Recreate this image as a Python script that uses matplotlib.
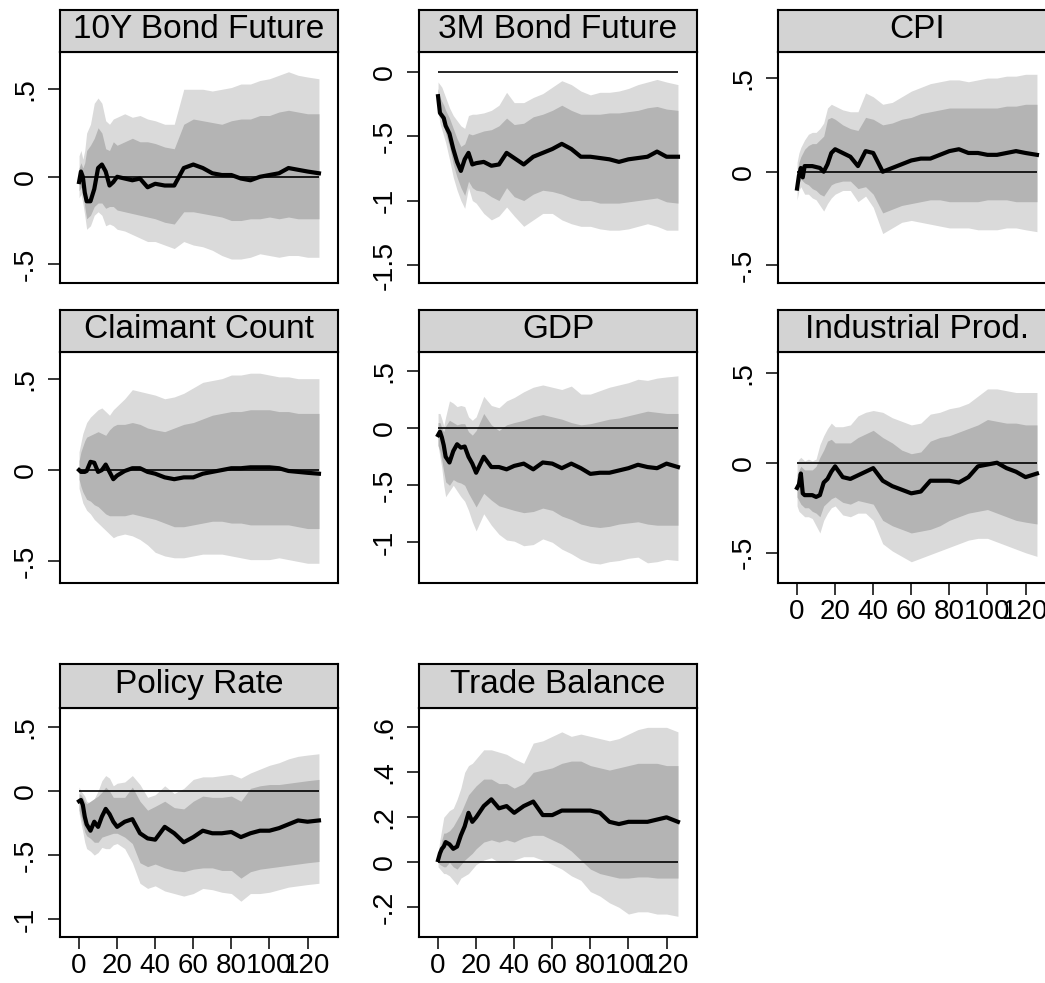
import matplotlib
matplotlib.use("Agg")
import matplotlib.pyplot as plt

plt.rcParams['font.family'] = ['Liberation Sans', 'DejaVu Sans']

# horizons at which the responses are recorded
horizon = [0, 1, 2, 3, 4, 6, 8, 10, 12, 14, 16, 18, 20, 24, 28, 32, 36, 40, 45, 50,
           55, 60, 65, 70, 75, 80, 85, 90, 95, 100, 105, 110, 115, 120, 126]

titles = ["10Y Bond Future", "3M Bond Future", "CPI", "Claimant Count", "GDP",
          "Industrial Prod.", "Policy Rate", "Trade Balance"]

# 10Y bond future
b10_irf = [-0.03, 0.03, 0.0, -0.09, -0.14, -0.14, -0.07, 0.05, 0.07, 0.03, -0.05, -0.03, 0.0, -0.01, -0.02, -0.01, -0.06, -0.04,
           -0.05, -0.05, 0.05, 0.07, 0.05, 0.02, 0.01, 0.01, -0.01, -0.02, 0.0, 0.01, 0.02, 0.05, 0.04, 0.03, 0.02]
b10_hi90 = [0.12, 0.15, 0.1, 0.15, 0.25, 0.3, 0.42, 0.45, 0.42, 0.32, 0.3, 0.33, 0.34, 0.36, 0.34, 0.35, 0.33, 0.32,
            0.3, 0.3, 0.5, 0.5, 0.5, 0.49, 0.5, 0.51, 0.53, 0.53, 0.55, 0.56, 0.58, 0.6, 0.58, 0.57, 0.56]
b10_lo90 = [-0.12, -0.1, -0.15, -0.22, -0.3, -0.28, -0.22, -0.2, -0.22, -0.28, -0.27, -0.28, -0.3, -0.31, -0.33, -0.35, -0.37, -0.37,
            -0.39, -0.41, -0.37, -0.39, -0.4, -0.42, -0.45, -0.47, -0.47, -0.46, -0.44, -0.45, -0.46, -0.45, -0.45, -0.46, -0.46]
b10_hi68 = [0.05, 0.08, 0.05, 0.08, 0.15, 0.18, 0.22, 0.28, 0.25, 0.16, 0.15, 0.2, 0.18, 0.2, 0.22, 0.2, 0.2, 0.19,
            0.17, 0.16, 0.3, 0.33, 0.32, 0.31, 0.3, 0.32, 0.33, 0.33, 0.35, 0.35, 0.37, 0.38, 0.37, 0.36, 0.36]
b10_lo68 = [-0.08, -0.06, -0.08, -0.17, -0.24, -0.22, -0.17, -0.15, -0.15, -0.18, -0.17, -0.17, -0.19, -0.2, -0.21, -0.22, -0.23, -0.24,
            -0.26, -0.27, -0.2, -0.2, -0.21, -0.22, -0.23, -0.25, -0.25, -0.24, -0.24, -0.23, -0.24, -0.23, -0.24, -0.24, -0.24]

# 3M bond future
b3m_irf = [-0.19, -0.32, -0.34, -0.36, -0.42, -0.48, -0.6, -0.7, -0.77, -0.68, -0.63, -0.72, -0.71, -0.7, -0.73, -0.72, -0.63, -0.67,
           -0.72, -0.66, -0.63, -0.6, -0.56, -0.6, -0.66, -0.66, -0.67, -0.68, -0.7, -0.68, -0.67, -0.66, -0.62, -0.66, -0.66]
b3m_hi90 = [-0.08, -0.1, -0.12, -0.16, -0.2, -0.28, -0.34, -0.38, -0.42, -0.44, -0.34, -0.33, -0.33, -0.32, -0.3, -0.26, -0.16, -0.24,
            -0.24, -0.2, -0.17, -0.12, -0.07, -0.1, -0.15, -0.18, -0.16, -0.16, -0.15, -0.13, -0.1, -0.08, -0.06, -0.08, -0.1]
b3m_lo90 = [-0.3, -0.4, -0.45, -0.5, -0.55, -0.68, -0.82, -0.92, -1.0, -1.06, -0.9, -1.0, -1.02, -1.1, -1.15, -1.12, -1.05, -1.12,
            -1.2, -1.15, -1.1, -1.1, -1.15, -1.18, -1.2, -1.2, -1.22, -1.23, -1.23, -1.22, -1.2, -1.18, -1.2, -1.23, -1.23]
b3m_hi68 = [-0.13, -0.2, -0.23, -0.26, -0.3, -0.36, -0.44, -0.52, -0.58, -0.56, -0.48, -0.49, -0.48, -0.46, -0.45, -0.42, -0.36, -0.41,
            -0.4, -0.35, -0.33, -0.3, -0.26, -0.3, -0.33, -0.33, -0.33, -0.32, -0.32, -0.31, -0.3, -0.28, -0.27, -0.29, -0.3]
b3m_lo68 = [-0.23, -0.33, -0.38, -0.42, -0.48, -0.58, -0.72, -0.82, -0.9, -0.96, -0.85, -0.9, -0.92, -0.93, -0.97, -1.0, -0.9, -0.97,
            -1.0, -0.95, -0.92, -0.93, -0.95, -0.98, -1.0, -1.0, -1.02, -1.02, -1.02, -1.01, -1.0, -0.99, -0.98, -1.01, -1.02]

# CPI
cpi_irf = [-0.09, -0.02, 0.02, -0.03, 0.03, 0.03, 0.03, 0.025, 0.02, 0.0, 0.04, 0.1, 0.12, 0.1, 0.08, 0.03, 0.11, 0.1,
           0.0, 0.02, 0.04, 0.06, 0.07, 0.07, 0.09, 0.11, 0.12, 0.1, 0.1, 0.09, 0.09, 0.1, 0.11, 0.1, 0.09]
cpi_hi90 = [0.05, 0.1, 0.13, 0.15, 0.17, 0.2, 0.21, 0.21, 0.23, 0.26, 0.34, 0.36, 0.35, 0.33, 0.32, 0.32, 0.42, 0.4,
            0.36, 0.37, 0.4, 0.43, 0.45, 0.47, 0.48, 0.49, 0.49, 0.48, 0.49, 0.5, 0.5, 0.51, 0.51, 0.52, 0.52]
cpi_lo90 = [-0.15, -0.1, -0.08, -0.1, -0.12, -0.12, -0.14, -0.15, -0.18, -0.21, -0.17, -0.14, -0.12, -0.1, -0.1, -0.16, -0.13, -0.19,
            -0.33, -0.3, -0.27, -0.26, -0.27, -0.28, -0.29, -0.3, -0.3, -0.3, -0.31, -0.31, -0.31, -0.3, -0.3, -0.31, -0.32]
cpi_hi68 = [0.0, 0.05, 0.08, 0.1, 0.12, 0.14, 0.15, 0.15, 0.17, 0.19, 0.28, 0.29, 0.28, 0.25, 0.23, 0.22, 0.29, 0.28,
            0.25, 0.26, 0.28, 0.29, 0.31, 0.32, 0.33, 0.34, 0.34, 0.34, 0.34, 0.34, 0.34, 0.35, 0.35, 0.36, 0.36]
cpi_lo68 = [-0.1, -0.06, -0.04, -0.05, -0.06, -0.07, -0.09, -0.1, -0.12, -0.13, -0.1, -0.07, -0.06, -0.05, -0.05, -0.09, -0.08, -0.12,
            -0.22, -0.2, -0.18, -0.17, -0.16, -0.15, -0.15, -0.16, -0.16, -0.16, -0.16, -0.15, -0.15, -0.15, -0.16, -0.16, -0.16]

# Claimant count
cc_irf = [0.0, -0.01, -0.01, -0.01, -0.005, 0.045, 0.04, -0.01, 0.0, 0.03, -0.01, -0.05, -0.03, -0.005, 0.01, 0.01, -0.01, -0.02,
          -0.04, -0.05, -0.04, -0.04, -0.02, -0.01, 0.0, 0.01, 0.01, 0.015, 0.015, 0.015, 0.01, -0.005, -0.01, -0.015, -0.02]
cc_hi90 = [0.1, 0.15, 0.2, 0.23, 0.26, 0.29, 0.31, 0.33, 0.34, 0.32, 0.3, 0.33, 0.35, 0.39, 0.44, 0.43, 0.42, 0.41,
           0.39, 0.4, 0.42, 0.45, 0.48, 0.49, 0.5, 0.52, 0.52, 0.53, 0.53, 0.52, 0.51, 0.51, 0.5, 0.5, 0.5]
cc_lo90 = [-0.1, -0.14, -0.18, -0.2, -0.22, -0.24, -0.27, -0.29, -0.31, -0.33, -0.35, -0.37, -0.36, -0.35, -0.36, -0.38, -0.41, -0.45,
           -0.47, -0.48, -0.48, -0.47, -0.46, -0.46, -0.46, -0.47, -0.48, -0.49, -0.49, -0.49, -0.48, -0.49, -0.5, -0.51, -0.51]
cc_hi68 = [0.05, 0.1, 0.13, 0.16, 0.18, 0.19, 0.2, 0.21, 0.2, 0.19, 0.22, 0.24, 0.25, 0.25, 0.26, 0.25, 0.23, 0.22,
           0.21, 0.23, 0.25, 0.26, 0.28, 0.3, 0.31, 0.32, 0.32, 0.33, 0.33, 0.33, 0.32, 0.32, 0.31, 0.31, 0.31]
cc_lo68 = [-0.05, -0.09, -0.12, -0.14, -0.16, -0.17, -0.19, -0.2, -0.22, -0.24, -0.25, -0.25, -0.25, -0.25, -0.24, -0.25, -0.26, -0.27,
           -0.29, -0.31, -0.31, -0.3, -0.29, -0.28, -0.28, -0.29, -0.29, -0.3, -0.3, -0.3, -0.3, -0.3, -0.31, -0.32, -0.32]

# GDP
gdp_irf = [-0.06, -0.03, -0.08, -0.15, -0.25, -0.3, -0.2, -0.14, -0.17, -0.16, -0.25, -0.31, -0.39, -0.25, -0.34, -0.34, -0.36, -0.33,
           -0.31, -0.36, -0.3, -0.31, -0.35, -0.31, -0.35, -0.4, -0.39, -0.39, -0.37, -0.35, -0.32, -0.34, -0.35, -0.31, -0.34]
gdp_hi90 = [0.13, 0.13, 0.08, 0.02, 0.1, 0.24, 0.22, 0.19, 0.2, 0.19, 0.1, 0.07, 0.1, 0.28, 0.2, 0.18, 0.24, 0.27,
            0.32, 0.36, 0.38, 0.36, 0.34, 0.37, 0.3, 0.3, 0.33, 0.36, 0.38, 0.4, 0.43, 0.42, 0.44, 0.45, 0.46]
gdp_lo90 = [-0.15, -0.25, -0.35, -0.5, -0.6, -0.55, -0.5, -0.55, -0.6, -0.64, -0.72, -0.82, -0.9, -0.75, -0.85, -0.93, -0.98, -0.99,
            -1.03, -1.02, -0.97, -1.0, -1.06, -1.1, -1.15, -1.18, -1.19, -1.17, -1.16, -1.14, -1.13, -1.18, -1.17, -1.15, -1.16]
gdp_hi68 = [0.05, 0.05, 0.0, -0.03, 0.02, 0.07, 0.05, 0.03, 0.04, 0.04, -0.03, -0.06, -0.02, 0.13, 0.03, -0.02, 0.03, 0.05,
            0.07, 0.1, 0.12, 0.1, 0.08, 0.05, 0.03, 0.04, 0.06, 0.08, 0.09, 0.11, 0.13, 0.15, 0.14, 0.13, 0.13]
gdp_lo68 = [-0.15, -0.2, -0.28, -0.38, -0.47, -0.5, -0.45, -0.47, -0.48, -0.5, -0.57, -0.63, -0.69, -0.57, -0.63, -0.68, -0.7, -0.72,
            -0.74, -0.73, -0.7, -0.72, -0.77, -0.8, -0.84, -0.86, -0.87, -0.86, -0.84, -0.83, -0.82, -0.84, -0.85, -0.85, -0.85]

# Industrial production
ip_irf = [-0.14, -0.12, -0.06, -0.17, -0.18, -0.18, -0.18, -0.19, -0.18, -0.11, -0.09, -0.05, -0.02, -0.08, -0.09, -0.07, -0.05, -0.03,
          -0.1, -0.13, -0.15, -0.17, -0.16, -0.1, -0.1, -0.1, -0.11, -0.08, -0.02, -0.01, 0.0, -0.03, -0.05, -0.08, -0.06]
ip_hi90 = [0.0, 0.02, 0.03, 0.02, 0.01, 0.02, 0.01, 0.02, 0.1, 0.15, 0.19, 0.22, 0.2, 0.2, 0.21, 0.26, 0.28, 0.29,
           0.28, 0.25, 0.23, 0.21, 0.22, 0.27, 0.28, 0.3, 0.31, 0.33, 0.37, 0.41, 0.41, 0.4, 0.39, 0.39, 0.39]
ip_lo90 = [-0.24, -0.27, -0.28, -0.29, -0.3, -0.3, -0.31, -0.35, -0.39, -0.32, -0.28, -0.25, -0.24, -0.29, -0.3, -0.28, -0.28, -0.32,
           -0.45, -0.49, -0.52, -0.55, -0.53, -0.51, -0.49, -0.47, -0.45, -0.43, -0.42, -0.42, -0.44, -0.46, -0.48, -0.5, -0.52]
ip_hi68 = [-0.07, -0.04, -0.02, -0.03, -0.04, -0.04, -0.04, -0.02, 0.03, 0.07, 0.12, 0.13, 0.11, 0.11, 0.11, 0.14, 0.16, 0.18,
           0.14, 0.11, 0.07, 0.05, 0.06, 0.12, 0.14, 0.15, 0.17, 0.19, 0.21, 0.24, 0.23, 0.22, 0.22, 0.21, 0.21]
ip_lo68 = [-0.19, -0.21, -0.23, -0.24, -0.25, -0.25, -0.27, -0.28, -0.3, -0.24, -0.22, -0.2, -0.19, -0.22, -0.23, -0.21, -0.22, -0.23,
           -0.32, -0.35, -0.37, -0.39, -0.38, -0.37, -0.35, -0.32, -0.3, -0.28, -0.27, -0.26, -0.28, -0.3, -0.32, -0.33, -0.34]

# Policy rate
pr_irf = [-0.08, -0.07, -0.11, -0.2, -0.26, -0.31, -0.24, -0.28, -0.2, -0.14, -0.18, -0.24, -0.28, -0.24, -0.22, -0.33, -0.37, -0.38,
          -0.28, -0.33, -0.4, -0.36, -0.31, -0.33, -0.33, -0.32, -0.36, -0.33, -0.31, -0.31, -0.29, -0.26, -0.23, -0.24, -0.23]
pr_hi90 = [0.03, 0.0, -0.02, -0.04, -0.08, -0.1, -0.06, 0.0, 0.08, 0.12, 0.1, 0.04, 0.06, 0.07, 0.12, 0.05, -0.05, -0.03,
           0.04, -0.02, 0.02, 0.09, 0.11, 0.11, 0.12, 0.13, 0.1, 0.14, 0.17, 0.2, 0.22, 0.25, 0.27, 0.28, 0.29]
pr_lo90 = [-0.17, -0.25, -0.32, -0.4, -0.45, -0.47, -0.5, -0.48, -0.44, -0.45, -0.45, -0.42, -0.41, -0.45, -0.56, -0.72, -0.76, -0.74,
           -0.78, -0.8, -0.82, -0.8, -0.76, -0.77, -0.79, -0.8, -0.86, -0.8, -0.8, -0.79, -0.77, -0.75, -0.74, -0.73, -0.72]
pr_hi68 = [-0.02, -0.03, -0.05, -0.08, -0.1, -0.08, -0.06, -0.04, -0.01, 0.03, 0.0, -0.05, -0.05, -0.05, 0.03, -0.08, -0.15, -0.12,
           -0.08, -0.13, -0.14, -0.08, -0.04, -0.05, -0.05, -0.04, -0.08, 0.02, 0.04, 0.05, 0.05, 0.06, 0.07, 0.08, 0.09]
pr_lo68 = [-0.15, -0.2, -0.26, -0.32, -0.35, -0.37, -0.4, -0.4, -0.36, -0.35, -0.34, -0.33, -0.33, -0.36, -0.41, -0.56, -0.59, -0.57,
           -0.6, -0.62, -0.63, -0.61, -0.6, -0.6, -0.62, -0.62, -0.68, -0.63, -0.61, -0.6, -0.59, -0.58, -0.57, -0.56, -0.55]

# Trade balance
tb_irf = [0.01, 0.04, 0.06, 0.07, 0.09, 0.08, 0.06, 0.07, 0.12, 0.16, 0.22, 0.18, 0.2, 0.25, 0.28, 0.24, 0.25, 0.22,
          0.25, 0.27, 0.21, 0.21, 0.23, 0.23, 0.23, 0.23, 0.22, 0.18, 0.17, 0.18, 0.18, 0.18, 0.19, 0.2, 0.18]
tb_hi90 = [0.04, 0.1, 0.15, 0.2, 0.21, 0.23, 0.24, 0.28, 0.33, 0.4, 0.43, 0.44, 0.46, 0.5, 0.5, 0.49, 0.48, 0.46,
           0.44, 0.53, 0.54, 0.56, 0.58, 0.56, 0.57, 0.56, 0.55, 0.54, 0.55, 0.57, 0.59, 0.6, 0.6, 0.6, 0.58]
tb_lo90 = [-0.02, -0.03, -0.04, -0.05, -0.05, -0.06, -0.08, -0.1, -0.07, -0.06, -0.05, -0.03, -0.01, 0.01, 0.02, 0.0, 0.0, 0.01,
           0.025, 0.025, 0.01, -0.01, -0.03, -0.06, -0.08, -0.13, -0.15, -0.18, -0.2, -0.23, -0.22, -0.22, -0.23, -0.23, -0.24]
tb_hi68 = [0.02, 0.06, 0.1, 0.13, 0.13, 0.14, 0.16, 0.19, 0.22, 0.26, 0.3, 0.32, 0.34, 0.37, 0.37, 0.35, 0.35, 0.33,
           0.35, 0.4, 0.41, 0.42, 0.44, 0.45, 0.45, 0.43, 0.42, 0.41, 0.42, 0.43, 0.44, 0.44, 0.44, 0.43, 0.43]
tb_lo68 = [0.0, -0.01, -0.015, -0.02, -0.02, 0.0, -0.02, -0.03, -0.01, 0.01, 0.025, 0.04, 0.06, 0.09, 0.1, 0.09, 0.1, 0.09,
           0.11, 0.12, 0.12, 0.1, 0.08, 0.05, 0.01, -0.03, -0.05, -0.06, -0.07, -0.07, -0.065, -0.065, -0.07, -0.07, -0.07]

panels = [
    (b10_irf, b10_lo90, b10_hi90, b10_lo68, b10_hi68),
    (b3m_irf, b3m_lo90, b3m_hi90, b3m_lo68, b3m_hi68),
    (cpi_irf, cpi_lo90, cpi_hi90, cpi_lo68, cpi_hi68),
    (cc_irf, cc_lo90, cc_hi90, cc_lo68, cc_hi68),
    (gdp_irf, gdp_lo90, gdp_hi90, gdp_lo68, gdp_hi68),
    (ip_irf, ip_lo90, ip_hi90, ip_lo68, ip_hi68),
    (pr_irf, pr_lo90, pr_hi90, pr_lo68, pr_hi68),
    (tb_irf, tb_lo90, tb_hi90, tb_lo68, tb_hi68),
]

# axis ranges and y ticks for each panel
ylims = [(-0.607, 0.713), (-1.64, 0.153), (-0.594, 0.639), (-0.618, 0.646),
         (-1.357, 0.669), (-0.668, 0.615), (-1.139, 0.647), (-0.332, 0.686)]
yticks = [[-0.5, 0, 0.5], [-1.5, -1, -0.5, 0], [-0.5, 0, 0.5], [-0.5, 0, 0.5],
          [-1, -0.5, 0, 0.5], [-0.5, 0, 0.5], [-1, -0.5, 0, 0.5], [-0.2, 0, 0.2, 0.4, 0.6]]
show_x = [False, False, False, False, False, True, True, True]
xticks = [0, 20, 40, 60, 80, 100, 120]


def stata_label(v):
    s = ("%g" % v)
    return s.replace("0.", ".")


W, H = 1045, 983
fig = plt.figure(figsize=(W / 100, H / 100), dpi=100)
fig.patch.set_facecolor("white")

col_left = [60, 419, 778]
row_top = [52, 352, 708]
row_h = [231, 231, 229]
strip_h = [42, 42, 44]
pw = 278

light = "#dadada"
dark = "#b4b4b4"

for i, (irf, lo90, hi90, lo68, hi68) in enumerate(panels):
    r, c = divmod(i, 3)
    x0 = col_left[c]
    top = row_top[r]
    h = row_h[r]
    ax = fig.add_axes([x0 / W, 1 - (top + h) / H, pw / W, h / H])
    ax.fill_between(horizon, lo90, hi90, color=light, lw=0)
    ax.fill_between(horizon, lo68, hi68, color=dark, lw=0)
    ax.hlines(0, horizon[0], horizon[-1], color="black", lw=1.2)
    ax.plot(horizon, irf, color="black", lw=3.0, solid_joinstyle="round")
    ax.set_xlim(-10, 136)
    ax.set_ylim(*ylims[i])
    ax.set_yticks(yticks[i])
    ax.set_yticklabels([stata_label(v) for v in yticks[i]], rotation=90, va="center")
    ax.tick_params(axis="y", length=8.5, width=1.1, labelsize=20.5, pad=7)
    if show_x[i]:
        ax.set_xticks(xticks)
        ax.set_xticklabels([str(v) for v in xticks])
        ax.tick_params(axis="x", length=8.5, width=1.1, labelsize=20, pad=3)
    else:
        ax.set_xticks([])
    for sp in ax.spines.values():
        sp.set_linewidth(1.5)

    # title strip above the plot region
    sh = strip_h[r]
    sax = fig.add_axes([x0 / W, 1 - top / H, pw / W, sh / H])
    sax.set_facecolor("#d3d3d3")
    sax.set_xticks([])
    sax.set_yticks([])
    for sp in sax.spines.values():
        sp.set_linewidth(1.5)
    sax.text(0.5, 0.34, titles[i], ha="center", va="baseline", fontsize=24,
             transform=sax.transAxes)

fig.savefig("out.png", dpi=100)
